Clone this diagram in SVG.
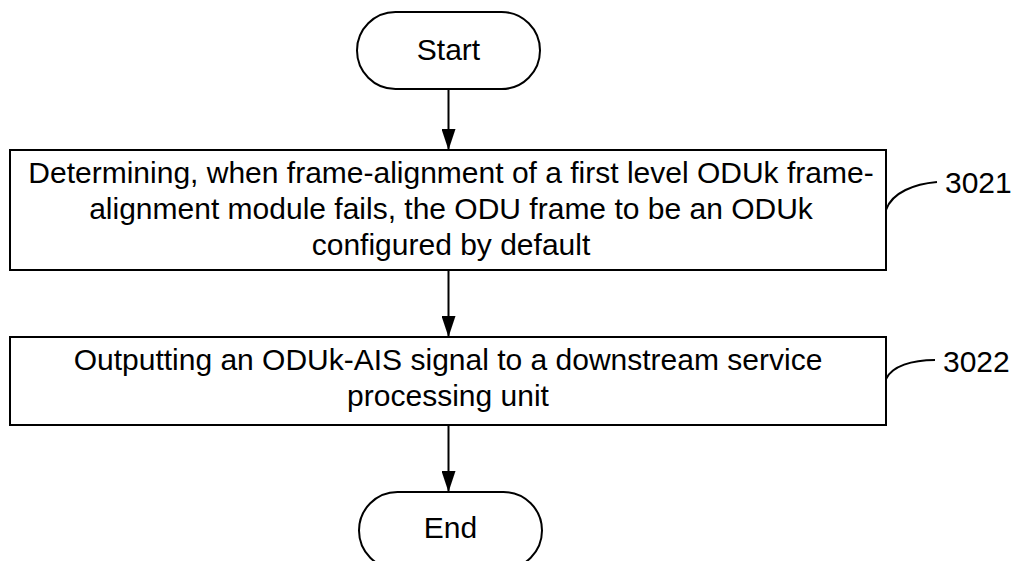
<svg xmlns="http://www.w3.org/2000/svg" width="1017" height="561" viewBox="0 0 1017 561">
<defs>
<style>
.s{fill:#fff;stroke:#000;stroke-width:2}
.t{font-family:"Liberation Sans",Arial,sans-serif;font-size:30px;fill:#000;text-anchor:middle}
.l{font-family:"Liberation Sans",Arial,sans-serif;font-size:30px;fill:#000}
.c{fill:none;stroke:#000;stroke-width:2}
</style>
<marker id="ah" viewBox="0 0 14 21" refX="14" refY="7" markerWidth="14" markerHeight="21" markerUnits="userSpaceOnUse" orient="auto">
<path d="M0,0 L21,7 L0,14 z" fill="#000" transform="translate(0,0)"/>
</marker>
<marker id="arr" viewBox="0 0 21 14" refX="21" refY="7" markerWidth="21" markerHeight="14" markerUnits="userSpaceOnUse" orient="auto">
<path d="M0,0 L21,7 L0,14 z" fill="#000"/>
</marker>
</defs>
<rect width="1017" height="561" fill="#fff"/>
<g id="connectors">
<line class="c" x1="448.5" y1="89" x2="448.5" y2="150" marker-end="url(#arr)"/>
<line class="c" x1="448.5" y1="270" x2="448.5" y2="337" marker-end="url(#arr)"/>
<line class="c" x1="448.5" y1="425" x2="448.5" y2="492" marker-end="url(#arr)"/>
<path class="c" d="M886,210 C892,192 915,184 937,182"/>
<path class="c" d="M886,379 C892,366 912,360 935,360"/>
</g>
<g id="start">
<rect class="s" x="357" y="12" width="183" height="77" rx="38.5" ry="38.5"/>
<text class="t" x="448.5" y="60">Start</text>
</g>
<g id="step3021">
<rect class="s" x="10" y="150" width="876" height="120"/>
<text class="t" x="451" y="183">Determining, when frame-alignment of a first level ODUk frame-</text>
<text class="t" x="451" y="219">alignment module fails, the ODU frame to be an ODUk</text>
<text class="t" x="451" y="255">configured by default</text>
</g>
<g id="label3021">
<text class="l" x="945" y="193">3021</text>
</g>
<g id="step3022">
<rect class="s" x="10" y="337" width="876" height="88"/>
<text class="t" x="448" y="370">Outputting an ODUk-AIS signal to a downstream service</text>
<text class="t" x="448" y="406">processing unit</text>
</g>
<g id="label3022">
<text class="l" x="943" y="372">3022</text>
</g>
<g id="end">
<rect class="s" x="359" y="492" width="183" height="77" rx="38.5" ry="38.5"/>
<text class="t" x="450.5" y="538">End</text>
</g>
</svg>
